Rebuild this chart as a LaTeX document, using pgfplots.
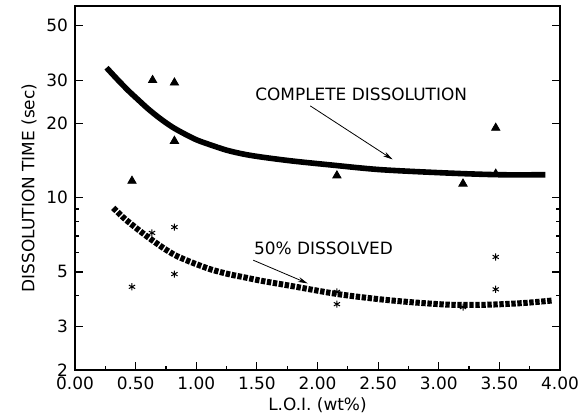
\documentclass[border=0pt]{standalone}
\usepackage{fontspec}
\setmainfont{DejaVu Sans}
\usepackage{pgfplots}
\pgfplotsset{compat=1.18}
\usetikzlibrary{arrows.meta}

\begin{document}
\begin{tikzpicture}
\begin{axis}[
  scale only axis,
  width=242.5bp, height=182bp,
  ymode=log,
  xmin=0, xmax=4, ymin=2, ymax=60,
  xtick={0,0.5,...,4}, minor x tick num=1,
  xticklabel style={/pgf/number format/.cd, fixed, fixed zerofill, precision=2},
  ytick={2,3,5,10,20,30,50},
  yticklabels={2,3,5,10,20,30,50},
  minor ytick={4,6,7,8,9},
  /pgf/number format/assume math mode=true,
  tick label style={font=\fontsize{8.5}{10}\selectfont},
  xtick pos=bottom, ytick pos=both,
  tick align=inside,
  major tick length=4bp, minor tick length=2bp,
  axis line style={line width=0.8bp},
  every tick/.style={black, line width=0.6bp},
  xlabel={L.O.I. (wt\%)},
  ylabel={DISSOLUTION TIME (sec)},
  label style={font=\fontsize{8.5}{10}\selectfont},
  xlabel style={yshift=3bp},
  ylabel style={yshift=-2bp},
  clip=false,
]
% complete dissolution data (triangles)
\addplot[only marks, mark=triangle*, mark size=2.4pt, black] coordinates {
  (0.47,11.7) (0.64,30) (0.82,29.3) (0.82,17.0) (2.16,12.3)
  (3.20,11.4) (3.47,19.2) (3.47,12.5)
};
% 50% dissolved data (stars)
\addplot[only marks, mark=asterisk, mark size=1.8pt, black, line width=0.5bp] coordinates {
  (0.47,4.35) (0.635,7.2) (0.82,7.6) (0.82,4.9) (2.16,4.15)
  (2.16,3.7) (3.20,3.6) (3.47,5.75) (3.47,4.25)
};
% complete dissolution curve
\addplot[black, line width=2.8bp, smooth] coordinates {
  (0.26,33.7) (0.35,30.2) (0.44,27.2) (0.52,25.0) (0.605,22.9)
  (0.70,21.0) (0.80,19.4) (0.90,18.2) (1.00,17.2) (1.10,16.5)
  (1.25,15.6) (1.40,15.0) (1.55,14.6) (1.79,14.1) (2.10,13.6)
  (2.52,13.0) (3.07,12.6) (3.50,12.4) (3.88,12.4)
};
% 50% dissolved curve
\addplot[black, line width=3bp, smooth, dash pattern=on 2.2bp off 0.8bp] coordinates {
  (0.316,9.1) (0.40,8.3) (0.495,7.6) (0.58,7.05) (0.66,6.6) (0.74,6.2)
  (0.825,5.85) (0.91,5.6) (0.99,5.4) (1.12,5.12) (1.265,4.9) (1.40,4.75)
  (1.54,4.6) (1.79,4.38) (2.16,4.07) (2.50,3.88)
  (2.80,3.76) (3.10,3.68) (3.40,3.68) (3.70,3.74) (3.94,3.83)
};
\node[font=\fontsize{8.5}{10}\selectfont] at (axis cs:2.36,26.4) {COMPLETE DISSOLUTION};
\node[font=\fontsize{8.5}{10}\selectfont] at (axis cs:2.05,6.25) {50\% DISSOLVED};
\draw[-{Stealth[length=5bp,width=2.5bp]}, line width=0.4bp] (axis cs:1.94,23.6) -- (axis cs:2.62,14.3);
\draw[-{Stealth[length=5bp,width=2.5bp]}, line width=0.4bp] (axis cs:1.47,5.58) -- (axis cs:1.92,4.49);
\end{axis}
\pgfresetboundingbox
\path ([shift={(-37.5bp,-24.5bp)}]current axis.south west) rectangle ([shift={(13.5bp,3bp)}]current axis.north east);
\end{tikzpicture}
\end{document}
